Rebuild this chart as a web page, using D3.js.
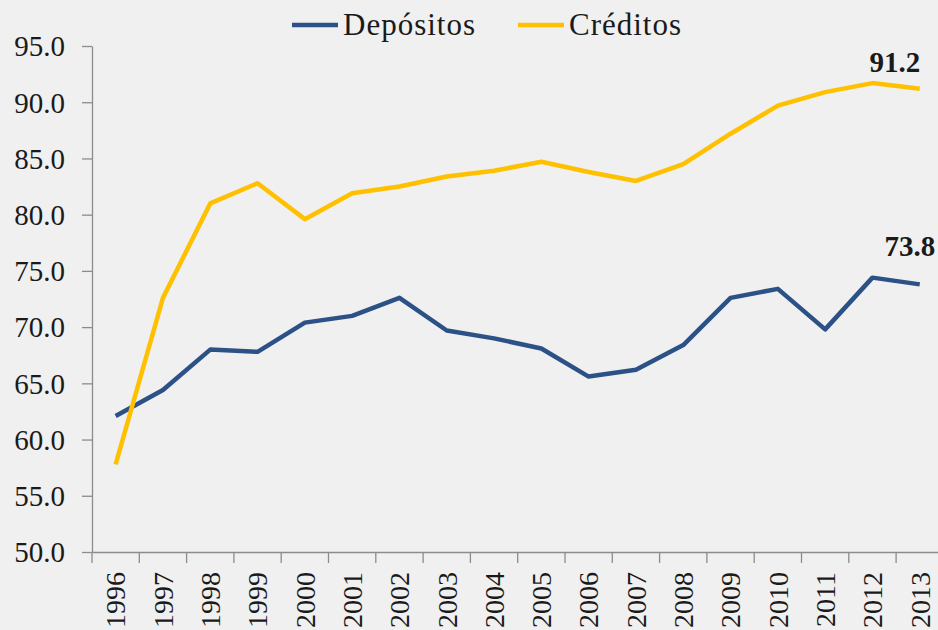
<!DOCTYPE html>
<html>
<head>
<meta charset="utf-8">
<script src="https://cdn.jsdelivr.net/npm/d3@7"></script>
<style>
  body { margin: 0; background: #f0f0f0; }
  svg { display: block; }
</style>
</head>
<body>
<svg id="chart"></svg>
<script>
// data
var years = ["1996","1997","1998","1999","2000","2001","2002","2003","2004",
             "2005","2006","2007","2008","2009","2010","2011","2012","2013"];
var depositos = [62.1, 64.4, 68.0, 67.8, 70.4, 71.0, 72.6, 69.7, 69.0,
                 68.1, 65.6, 66.2, 68.4, 72.6, 73.4, 69.8, 74.4, 73.8];
var creditos = [57.8, 72.6, 81.0, 82.8, 79.6, 81.9, 82.5, 83.4, 83.9,
                84.7, 83.8, 83.0, 84.5, 87.2, 89.7, 90.9, 91.7, 91.2];
var yTicks = [50, 55, 60, 65, 70, 75, 80, 85, 90, 95];
var seriesNames = ["Depósitos", "Créditos"];
var seriesColors = ["#2b5186", "#ffc000"];

var FONT = "'Liberation Serif', 'DejaVu Serif', serif";
var W = 938, H = 630;
var margin = {top: 46, left: 92, bottom: 78};
var bandW = 47.3;
var height = H - margin.top - margin.bottom;

var svg = d3.select("#chart").attr("width", W).attr("height", H);
var g = svg.append("g").attr("transform", "translate(" + margin.left + "," + margin.top + ")");

var x = d3.scaleBand().domain(years).range([0, bandW * years.length]);
var y = d3.scaleLinear().domain([50, 95]).range([height, 0]);

// y axis
var gy = g.append("g")
    .call(d3.axisLeft(y).tickValues(yTicks).tickFormat(d3.format(".1f"))
      .tickSizeInner(10).tickSizeOuter(0).tickPadding(17));
gy.attr("font-family", null);
gy.select(".domain").attr("stroke", "#8c8c8c").attr("stroke-width", 1.3);
gy.selectAll(".tick line").attr("stroke", "#8c8c8c").attr("stroke-width", 1.3);
gy.selectAll("text")
    .style("font-family", FONT)
    .style("font-size", "29px")
    .attr("dy", "0.34em")
    .attr("fill", "#1a1a1a");

// x axis, ticks on band boundaries
var gx = g.append("g")
    .attr("transform", "translate(0," + height + ")")
    .call(d3.axisBottom(x).tickSizeInner(11).tickSizeOuter(0).tickPadding(0));
gx.attr("font-family", null);
gx.select(".domain").attr("stroke", "#8c8c8c").attr("stroke-width", 1.3);
gx.selectAll(".tick line").attr("stroke", "#8c8c8c").attr("stroke-width", 1.3)
    .attr("x1", -x.bandwidth() / 2).attr("x2", -x.bandwidth() / 2);
gx.selectAll("text")
    .style("font-family", FONT)
    .style("font-size", "28px")
    .attr("fill", "#1a1a1a")
    .attr("text-anchor", "end")
    .attr("transform", "rotate(-90)")
    .attr("x", -20)
    .attr("y", 0)
    .attr("dy", "0.35em");

// lines
var line = d3.line()
    .x(function (d, i) { return x(years[i]) + x.bandwidth() / 2; })
    .y(function (d) { return y(d); });

[depositos, creditos].forEach(function (s, k) {
  g.append("path")
      .datum(s)
      .attr("fill", "none")
      .attr("stroke", seriesColors[k])
      .attr("stroke-width", 4.5)
      .attr("stroke-linejoin", "round")
      .attr("d", line);
});

// end labels
var last = years.length - 1;
var cx = x(years[last]) + x.bandwidth() / 2;
g.append("text")
    .attr("x", cx - 25).attr("y", y(creditos[last]) - 17)
    .attr("text-anchor", "middle")
    .style("font-family", FONT)
    .style("font-size", "29px").style("font-weight", "bold")
    .attr("fill", "#1a1a1a")
    .text(creditos[last].toFixed(1));
g.append("text")
    .attr("x", cx - 10).attr("y", y(depositos[last]) - 28)
    .attr("text-anchor", "middle")
    .style("font-family", FONT)
    .style("font-size", "29px").style("font-weight", "bold")
    .attr("fill", "#1a1a1a")
    .text(depositos[last].toFixed(1));

// legend
var legend = svg.append("g").attr("transform", "translate(292,25)");
var lx = 0;
seriesNames.forEach(function (name, k) {
  legend.append("line")
      .attr("x1", lx).attr("x2", lx + 46)
      .attr("y1", 0).attr("y2", 0)
      .attr("stroke", seriesColors[k]).attr("stroke-width", 4.5);
  legend.append("text")
      .attr("x", lx + 51).attr("y", 10)
      .style("font-family", FONT)
      .style("font-size", "31px")
      .style("letter-spacing", "1px")
      .attr("fill", "#1a1a1a")
      .text(name);
  lx += 226;
});
</script>
</body>
</html>
